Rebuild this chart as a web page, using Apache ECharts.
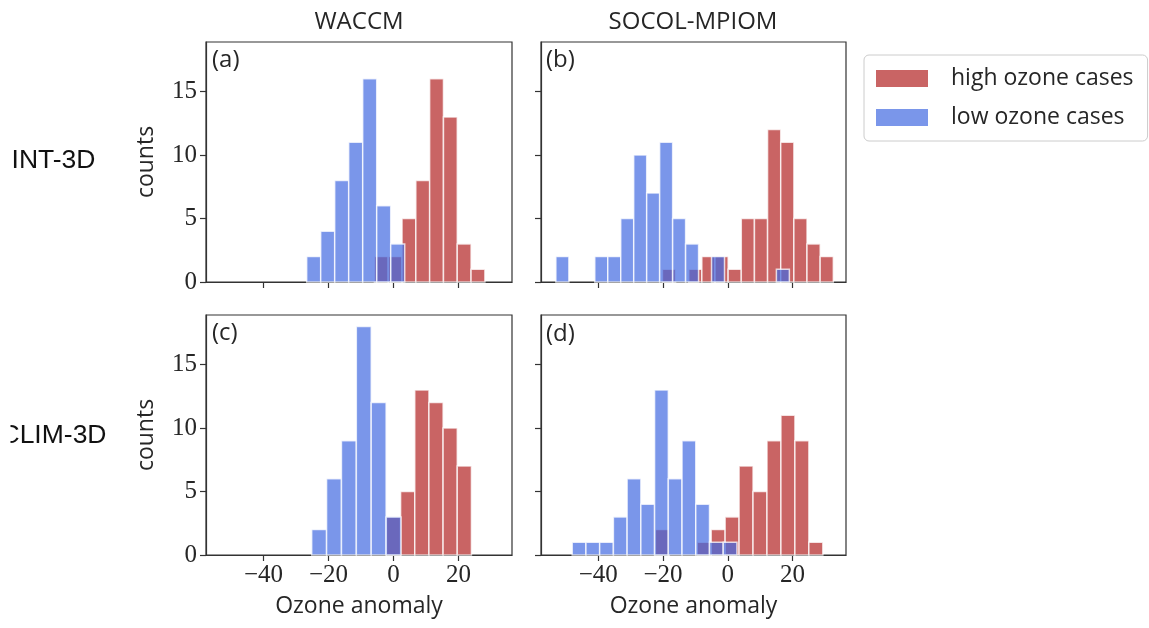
<!DOCTYPE html>
<html>
<head>
<meta charset="utf-8">
<script src="https://cdn.jsdelivr.net/npm/echarts@6/dist/echarts.min.js"></script>
<style>
  html, body { margin: 0; padding: 0; background: #fff; }
  #chart { width: 1149px; height: 628px; }
</style>
</head>
<body>
<div id="chart"></div>
<script>
// histogram bins: first left edge, bin width, counts (50 cases each)
var aLowStart = -26.7, aLowWidth = 4.31;
var aLowCounts = [2, 4, 8, 11, 16, 6, 3];
var aHighStart = -5.85, aHighWidth = 4.25;
var aHighCounts = [2, 2, 5, 8, 16, 13, 3, 1];

var bLowStart = -53.1, bLowWidth = 4.006;
var bLowCounts = [2, 0, 0, 2, 2, 5, 10, 7, 11, 5, 3, 0, 2, 0, 0, 0, 0, 1];
var bHighStart = -20.2, bHighWidth = 4.06;
var bHighCounts = [1, 0, 1, 2, 2, 1, 5, 5, 12, 11, 5, 3, 2];

var cLowStart = -25.16, cLowWidth = 4.58;
var cLowCounts = [2, 6, 9, 18, 12, 3];
var cHighStart = -2.15, cHighWidth = 4.36;
var cHighCounts = [3, 5, 13, 12, 10, 7];

var dLowStart = -48.06, dLowWidth = 4.24;
var dLowCounts = [1, 1, 1, 3, 6, 4, 13, 6, 9, 4, 1, 1];
var dHighStart = -22.38, dHighWidth = 4.31;
var dHighCounts = [2, 0, 0, 1, 2, 3, 7, 5, 9, 11, 9, 1];

var xTicks = [-40, -20, 0, 20];
var yTicks = [0, 5, 10, 15];
var colTitles = ['WACCM', 'SOCOL-MPIOM'];
var rowTitles = ['INT-3D', 'CLIM-3D'];
var panelLabels = ['(a)', '(b)', '(c)', '(d)'];

var HIGH = 'rgba(178,34,34,0.7)';
var LOW = 'rgba(65,105,225,0.7)';
var sans = 'Open Sans';
var serif = 'Liberation Serif';
var ink = '#262626';

function bins(start, width, counts) {
  var out = [];
  counts.forEach(function (c, i) {
    if (c > 0) out.push([start + i * width, start + (i + 1) * width, c]);
  });
  return out;
}

var panels = [
  { grid: { left: 206, top: 42, width: 306, height: 240 }, low: bins(aLowStart, aLowWidth, aLowCounts), high: bins(aHighStart, aHighWidth, aHighCounts) },
  { grid: { left: 541, top: 42, width: 305, height: 240 }, low: bins(bLowStart, bLowWidth, bLowCounts), high: bins(bHighStart, bHighWidth, bHighCounts) },
  { grid: { left: 206, top: 315, width: 306, height: 240 }, low: bins(cLowStart, cLowWidth, cLowCounts), high: bins(cHighStart, cHighWidth, cHighCounts) },
  { grid: { left: 541, top: 315, width: 305, height: 240 }, low: bins(dLowStart, dLowWidth, dLowCounts), high: bins(dHighStart, dHighWidth, dHighCounts) }
];

function renderBar(params, api) {
  var p0 = api.coord([api.value(0), 0]);
  var p1 = api.coord([api.value(1), api.value(2)]);
  return {
    type: 'rect',
    shape: { x: p0[0], y: p1[1], width: p1[0] - p0[0], height: p0[1] - p1[1] },
    style: { fill: api.visual('color'), stroke: 'rgba(255,255,255,0.75)', lineWidth: 1.5 }
  };
}

function minusFmt(v) {
  return v < 0 ? '\u2212' + Math.abs(v) : String(v);
}

var grids = [], xAxes = [], yAxes = [], series = [];
panels.forEach(function (p, i) {
  var left = i % 2 === 0, bottom = i >= 2;
  grids.push(Object.assign({ show: true, borderColor: '#333', borderWidth: 1.2, backgroundColor: 'transparent' }, p.grid));
  xAxes.push({
    type: 'value', gridIndex: i, min: -57.7, max: 36.5,
    splitLine: { show: false },
    axisLine: { show: true, onZero: false, lineStyle: { color: '#333', width: 1.2 } },
    axisTick: { show: true, length: 6, customValues: xTicks, lineStyle: { color: '#333', width: 1.2 } },
    axisLabel: { show: bottom, customValues: xTicks, formatter: minusFmt, fontFamily: serif, fontSize: 25, color: ink, margin: 8 },
    name: bottom ? 'Ozone anomaly' : '', nameLocation: 'middle', nameGap: 40,
    nameTextStyle: { fontFamily: sans, fontSize: 23, color: ink }
  });
  yAxes.push({
    type: 'value', gridIndex: i, min: 0, max: 18.9,
    splitLine: { show: false },
    axisLine: { show: true, onZero: false, lineStyle: { color: '#333', width: 1.2 } },
    axisTick: { show: true, length: 6, customValues: yTicks, lineStyle: { color: '#333', width: 1.2 } },
    axisLabel: { show: left, customValues: yTicks, fontFamily: serif, fontSize: 25, color: ink, margin: 9 },
    name: left ? 'counts' : '', nameLocation: 'middle', nameGap: 48, nameRotate: 90,
    nameTextStyle: { fontFamily: sans, fontSize: 23, color: ink }
  });
  series.push({
    type: 'custom', name: 'high ozone cases', xAxisIndex: i, yAxisIndex: i,
    itemStyle: { color: HIGH }, renderItem: renderBar, encode: { x: [0, 1], y: 2 },
    data: p.high, silent: true
  });
  series.push({
    type: 'custom', name: 'low ozone cases', xAxisIndex: i, yAxisIndex: i,
    itemStyle: { color: LOW }, renderItem: renderBar, encode: { x: [0, 1], y: 2 },
    data: p.low, silent: true
  });
});

var graphics = [];
colTitles.forEach(function (t, i) {
  graphics.push({ type: 'text', x: [359, 693][i], y: 22, style: { text: t, fontFamily: sans, fontSize: 24, fill: ink, textAlign: 'center', textVerticalAlign: 'middle' } });
});
rowTitles.forEach(function (t, i) {
  graphics.push({ type: 'text', x: 53.5, y: [160.5, 435.5][i], style: { text: t, fontFamily: 'Liberation Sans', fontSize: 26.5, fill: '#111', textAlign: 'center', textVerticalAlign: 'middle' } });
});
// figure was cropped on the left edge
graphics.push({ type: 'rect', shape: { x: 0, y: 0, width: 10.5, height: 628 }, style: { fill: '#fff' }, z: 100 });
panelLabels.forEach(function (t, i) {
  graphics.push({ type: 'text', x: [212, 546, 212, 546][i], y: [60, 60, 333, 334][i], style: { text: t, fontFamily: sans, fontSize: 24, fill: ink, textVerticalAlign: 'middle' } });
});

var option = {
  animation: false,
  backgroundColor: '#fff',
  grid: grids,
  xAxis: xAxes,
  yAxis: yAxes,
  series: series,
  legend: {
    data: ['high ozone cases', 'low ozone cases'],
    orient: 'vertical', left: 864, top: 55,
    padding: [12, 14, 12, 12],
    itemWidth: 52, itemHeight: 17, itemGap: 16,
    icon: 'rect',
    borderColor: '#ccc', borderWidth: 1, borderRadius: 5,
    selectedMode: false,
    formatter: function (name) { return '{t|' + name + '}'; },
    textStyle: {
      rich: { t: { fontFamily: sans, fontSize: 23, color: ink, padding: [0, 0, 0, 18], lineHeight: 22 } }
    }
  },
  graphic: graphics
};

echarts.init(document.getElementById('chart')).setOption(option);
</script>
</body>
</html>
